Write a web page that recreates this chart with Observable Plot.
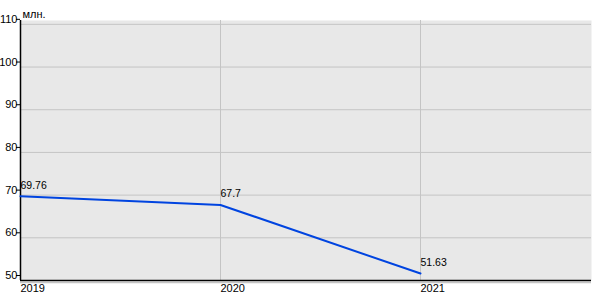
<!DOCTYPE html>
<html>
<head>
<meta charset="utf-8">
<script src="https://cdn.jsdelivr.net/npm/d3@7"></script>
<script src="https://cdn.jsdelivr.net/npm/@observablehq/plot@0.6"></script>
<style>
  html, body { margin: 0; padding: 0; background: #fff; }
</style>
</head>
<body>
<div id="chart"></div>
<script>
const years = [2019, 2020, 2021];
const values = [69.76, 67.7, 51.63];
const labels = ["69.76", "67.7", "51.63"];
const yTicks = [50, 60, 70, 80, 90, 100, 110];
const unitLabel = "млн.";

const data = years.map((y, i) => ({year: y, value: values[i], label: labels[i]}));

const chart = Plot.plot({
  width: 600,
  height: 300,
  marginLeft: 20,
  marginRight: 9,
  marginTop: 20,
  marginBottom: 20,
  style: {background: "#fff", fontFamily: "Arial, 'Liberation Sans', sans-serif", fontSize: "11px", color: "#000"},
  x: {domain: [2019, 2021.855]},
  y: {domain: [50, 110.9]},
  marks: [
    Plot.frame({fill: "#e8e8e8", stroke: null}),
    Plot.gridY(yTicks, {stroke: "#c4c4c4", strokeOpacity: 1}),
    Plot.gridX(years, {stroke: "#c4c4c4", strokeOpacity: 1}),
    Plot.ruleY([50], {stroke: "#c4c4c4", dy: 2, strokeWidth: 1.5}),
    Plot.ruleY([50], {stroke: "#000", strokeWidth: 1.5}),
    Plot.axisY(yTicks, {tickSize: 4, tickPadding: -1, dy: -5, stroke: "#000", tickFormat: d => String(d), label: null}),
    Plot.ruleX([2019], {stroke: "#000", y1: 50, y2: 110.9, strokeWidth: 1.5}),
    Plot.axisX(years, {tickSize: 0, tickPadding: 4, textAnchor: "start", tickFormat: d => String(d), label: null}),
    Plot.text([unitLabel], {frameAnchor: "top-left", dx: 2, dy: -10, textAnchor: "start", fontSize: 11}),
    Plot.line(data, {x: "year", y: "value", stroke: "#0044e0", strokeWidth: 2}),
    Plot.text(data, {x: "year", y: "value", text: "label", textAnchor: "start", dy: -11, dx: 0, fontSize: 10.5})
  ]
});
document.getElementById("chart").appendChild(chart);
</script>
</body>
</html>
